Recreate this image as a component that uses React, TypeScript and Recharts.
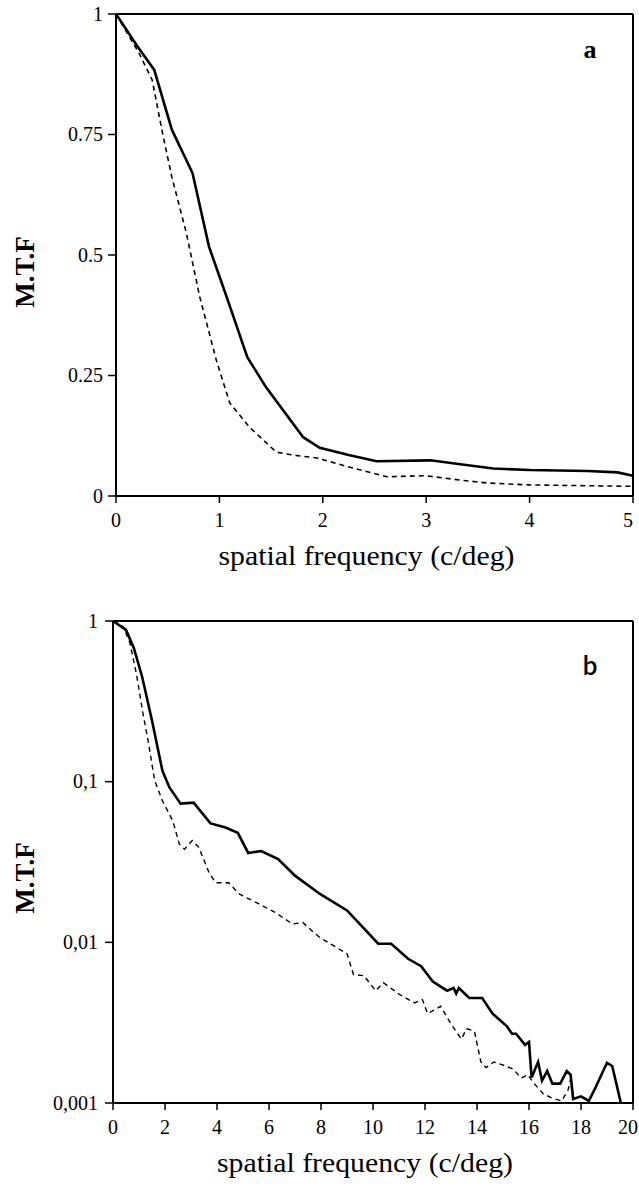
import React from "react";
import {
    LineChart,
    Line,
    XAxis,
    YAxis,
    ReferenceLine,
    Label
} from "recharts";

// panel a: linear MTF, 0-5 c/deg
const solidAFreq = [0, 0.2, 0.37, 0.54, 0.74, 0.9, 1.08, 1.27, 1.45, 1.81, 1.97, 2.25, 2.52, 3.04, 3.33, 3.65, 4.0, 4.56, 4.85, 5.0];
const solidAMtf = [1, 0.935, 0.884, 0.76, 0.67, 0.517, 0.407, 0.288, 0.226, 0.122, 0.1, 0.085, 0.072, 0.074, 0.066, 0.057, 0.054, 0.052, 0.049, 0.042];
const dashAFreq = [0, 0.22, 0.35, 0.45, 0.54, 0.68, 0.81, 0.97, 1.1, 1.29, 1.55, 1.71, 1.94, 2.29, 2.62, 3.0, 3.33, 3.59, 4.0, 5.0];
const dashAMtf = [1, 0.92, 0.863, 0.753, 0.662, 0.546, 0.413, 0.282, 0.193, 0.143, 0.091, 0.085, 0.079, 0.058, 0.04, 0.042, 0.033, 0.027, 0.023, 0.02];
const ticksAX = [0, 1, 2, 3, 4, 5];
const ticksAY = [0, 0.25, 0.5, 0.75, 1];

// panel b: log MTF, 0-20 c/deg
const solidBFreq = [0, 0.5, 0.8, 1.12, 1.5, 1.9, 2.17, 2.6, 3.1, 3.75, 4.3, 4.8, 5.2, 5.7, 6.35, 7.0, 7.96, 9.0, 9.65, 10.2, 10.7, 11.35, 11.85, 12.3, 12.85, 13.1, 13.2, 13.3, 13.7, 14.2, 14.6, 15.15, 15.35, 15.5, 15.85, 16.0, 16.1, 16.35, 16.5, 16.7, 16.9, 17.2, 17.45, 17.6, 17.7, 18.0, 18.3, 18.55, 19.0, 19.2, 19.6];
const solidBMtf = [1, 0.88, 0.68, 0.45, 0.24, 0.117, 0.092, 0.073, 0.074, 0.055, 0.052, 0.048, 0.036, 0.037, 0.033, 0.026, 0.02, 0.0158, 0.0122, 0.0098, 0.0098, 0.0079, 0.0071, 0.0057, 0.005, 0.0052, 0.0048, 0.0052, 0.0045, 0.0045, 0.0036, 0.003, 0.0027, 0.0027, 0.0023, 0.0024, 0.00144, 0.0018, 0.00138, 0.00158, 0.00132, 0.00132, 0.00158, 0.0015, 0.00106, 0.0011, 0.00103, 0.00124, 0.00178, 0.0017, 0.0009];
const dashBFreq = [0, 0.4, 0.65, 0.9, 1.15, 1.35, 1.6, 1.9, 2.3, 2.55, 2.75, 3.05, 3.3, 3.7, 3.95, 4.45, 4.85, 5.6, 6.25, 6.9, 7.3, 7.65, 7.96, 9.0, 9.25, 9.65, 10.1, 10.4, 11.05, 11.6, 11.9, 12.1, 12.6, 13.0, 13.4, 13.6, 13.9, 14.15, 14.35, 14.65, 15.1, 15.4, 15.7, 15.95, 16.2, 16.55, 16.85, 17.25, 17.5, 17.6, 17.7];
const dashBMtf = [1, 0.92, 0.73, 0.47, 0.267, 0.18, 0.102, 0.076, 0.057, 0.041, 0.038, 0.043, 0.039, 0.027, 0.0235, 0.0235, 0.02, 0.0174, 0.0153, 0.013, 0.0133, 0.0118, 0.0107, 0.0085, 0.0063, 0.0062, 0.005, 0.0056, 0.0047, 0.0042, 0.0044, 0.0036, 0.004, 0.0031, 0.0025, 0.0029, 0.0028, 0.0018, 0.00166, 0.0018, 0.0017, 0.00162, 0.00143, 0.0015, 0.00132, 0.00114, 0.00108, 0.00103, 0.0012, 0.0014, 0.001];
const ticksBX = [0, 2, 4, 6, 8, 10, 12, 14, 16, 18, 20];
const ticksBY = [0.001, 0.01, 0.1, 1];
const ticksBYLabels = ["0,001", "0,01", "0,1", "1"];

const FONT = "Liberation Serif, DejaVu Serif, serif";
const xLabel = "spatial frequency (c/deg)";

const zip = (xs: number[], ys: number[]) => xs.map((f, i) => ({ f, v: ys[i] }));

const axisLine = { stroke: "#000", strokeWidth: 2 };
const tickLine = { stroke: "#000", strokeWidth: 1.5 };

// keeps the right-most label inside the page
const XTick = (props: any) => (
    <text
        x={Math.min(props.x, 628)}
        y={props.y}
        dy="0.71em"
        textAnchor="middle"
        fontFamily={FONT}
        fontSize={20}
        fill="#000"
    >
        {props.payload.value}
    </text>
);

const YTick = (fmt: (v: number) => string) => (props: any) => (
    <text x={props.x} y={props.y} dy="0.34em" textAnchor="end" fontFamily={FONT} fontSize={20} fill="#000">
        {fmt(props.payload.value)}
    </text>
);

const fmtB = (v: number) => ticksBYLabels[ticksBY.indexOf(v)] ?? String(v);

const xTitle = (dy: number) => (props: any) => {
    const vb = props.viewBox || {};
    return (
        <text
            x={vb.x + vb.width / 2 - 8}
            y={vb.y + dy}
            textAnchor="middle"
            fontFamily={FONT}
            fontSize={27}
            textLength={296}
            lengthAdjust="spacingAndGlyphs"
            fill="#000"
        >
            {xLabel}
        </text>
    );
};

const yTitle = (cx: number, cy: number) => () => (
    <text
        x={cx}
        y={cy}
        transform={`rotate(-90 ${cx} ${cy})`}
        textAnchor="middle"
        dominantBaseline="central"
        fontFamily={FONT}
        fontWeight="bold"
        fontSize={27}
        fill="#000"
    >
        M.T.F
    </text>
);

const panelLetter = (letter: string, family: string, weight: string, dy: number) => (props: any) => {
    const vb = props.viewBox || {};
    return (
        <text
            x={vb.x + vb.width - 43}
            y={vb.y + dy}
            textAnchor="middle"
            fontFamily={family}
            fontWeight={weight}
            fontSize={26}
            fill="#000"
        >
            {letter}
        </text>
    );
};

const App: React.FC = () => {
    return (
        <div style={{ position: "absolute", left: 0, top: 0, width: 639, height: 1188, background: "#fff", fontFamily: FONT }}>
            <div style={{ position: "absolute", left: 0, top: 0 }}>
                <LineChart width={639} height={600} margin={{ top: 14, right: 6, bottom: 74, left: 56 }}>
                    <XAxis
                        type="number"
                        dataKey="f"
                        domain={[0, 5]}
                        ticks={ticksAX}
                        height={30}
                        axisLine={axisLine}
                        tickLine={tickLine}
                        tickSize={7}
                        tickMargin={10}
                        tick={XTick}
                        allowDataOverflow
                    >
                        <Label content={xTitle(69)} />
                    </XAxis>
                    <YAxis
                        type="number"
                        domain={[0, 1]}
                        ticks={ticksAY}
                        width={60}
                        axisLine={axisLine}
                        tickLine={tickLine}
                        tickSize={8}
                        tickMargin={5}
                        tick={YTick((v) => String(v))}
                        allowDataOverflow
                    >
                        <Label content={yTitle(25, 272)} />
                    </YAxis>
                    <ReferenceLine y={1} stroke="#000" strokeWidth={2}>
                        <Label content={panelLetter("a", FONT, "bold", 44)} />
                    </ReferenceLine>
                    <ReferenceLine x={5} stroke="#000" strokeWidth={2} />
                    <Line
                        data={zip(dashAFreq, dashAMtf)}
                        dataKey="v"
                        type="linear"
                        stroke="#000"
                        strokeWidth={1.6}
                        strokeDasharray="5 4"
                        dot={false}
                        isAnimationActive={false}
                    />
                    <Line
                        data={zip(solidAFreq, solidAMtf)}
                        dataKey="v"
                        type="linear"
                        stroke="#000"
                        strokeWidth={2.6}
                        dot={false}
                        isAnimationActive={false}
                    />
                </LineChart>
            </div>
            <div style={{ position: "absolute", left: 0, top: 600 }}>
                <LineChart width={639} height={588} margin={{ top: 21, right: 6, bottom: 55, left: 53 }}>
                    <XAxis
                        type="number"
                        dataKey="f"
                        domain={[0, 20]}
                        ticks={ticksBX}
                        height={30}
                        axisLine={axisLine}
                        tickLine={tickLine}
                        tickSize={7}
                        tickMargin={10}
                        tick={XTick}
                        allowDataOverflow
                    >
                        <Label content={xTitle(69)} />
                    </XAxis>
                    <YAxis
                        type="number"
                        scale="log"
                        domain={[0.001, 1]}
                        ticks={ticksBY}
                        width={60}
                        axisLine={axisLine}
                        tickLine={tickLine}
                        tickSize={8}
                        tickMargin={7}
                        tick={YTick(fmtB)}
                        allowDataOverflow
                    >
                        <Label content={yTitle(25, 278)} />
                    </YAxis>
                    <ReferenceLine y={1} stroke="#000" strokeWidth={2}>
                        <Label content={panelLetter("b", "Lato, Liberation Sans, sans-serif", "600", 54)} />
                    </ReferenceLine>
                    <ReferenceLine x={20} stroke="#000" strokeWidth={2} />
                    <Line
                        data={zip(dashBFreq, dashBMtf)}
                        dataKey="v"
                        type="linear"
                        stroke="#000"
                        strokeWidth={1.4}
                        strokeDasharray="5 4"
                        dot={false}
                        isAnimationActive={false}
                    />
                    <Line
                        data={zip(solidBFreq, solidBMtf)}
                        dataKey="v"
                        type="linear"
                        stroke="#000"
                        strokeWidth={2.6}
                        dot={false}
                        isAnimationActive={false}
                    />
                </LineChart>
            </div>
        </div>
    );
};

export default App;
